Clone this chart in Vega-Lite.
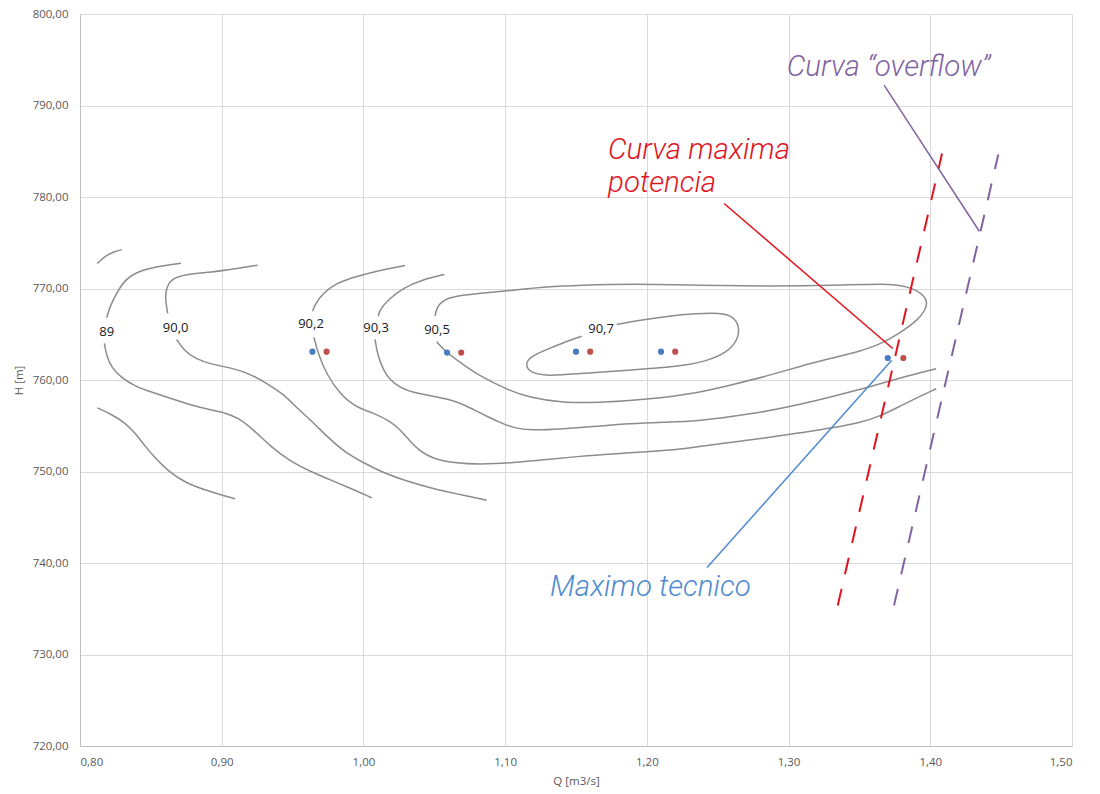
{
 "$schema": "https://vega.github.io/schema/vega-lite/v6.json",
 "width": 992,
 "height": 732,
 "autosize": {"type": "none"},
 "padding": {"left": 80, "top": 14, "right": 28, "bottom": 48},
 "config": {"view": {"stroke": null}, "font": "Open Sans", "background": "white"},
 "datasets": {
  "contours": [
   {"s":"A","i":1,"Q":0.8122,"H":772.73},{"s":"A","i":2,"Q":0.8176,"H":773.53},{"s":"A","i":3,"Q":0.8235,"H":774.01},{"s":"A","i":4,"Q":0.8294,"H":774.23},
   {"s":"89a","i":1,"Q":0.8713,"H":772.77},{"s":"89a","i":2,"Q":0.8553,"H":772.44},{"s":"89a","i":3,"Q":0.8411,"H":771.89},{"s":"89a","i":4,"Q":0.8318,"H":770.98},{"s":"89a","i":5,"Q":0.8259,"H":769.53},{"s":"89a","i":6,"Q":0.8212,"H":768.07},{"s":"89a","i":7,"Q":0.8188,"H":766.80},
   {"s":"89b","i":1,"Q":0.8172,"H":763.99},{"s":"89b","i":2,"Q":0.8188,"H":762.60},{"s":"89b","i":3,"Q":0.8224,"H":761.33},{"s":"89b","i":4,"Q":0.8294,"H":760.24},{"s":"89b","i":5,"Q":0.8388,"H":759.32},{"s":"89b","i":6,"Q":0.8506,"H":758.67},{"s":"89b","i":7,"Q":0.8647,"H":757.94},{"s":"89b","i":8,"Q":0.8788,"H":757.25},{"s":"89b","i":9,"Q":0.8929,"H":756.70},{"s":"89b","i":10,"Q":0.9023,"H":756.42},{"s":"89b","i":11,"Q":0.9117,"H":755.87},{"s":"89b","i":12,"Q":0.9223,"H":754.59},{"s":"89b","i":13,"Q":0.9341,"H":752.77},{"s":"89b","i":14,"Q":0.9482,"H":751.13},{"s":"89b","i":15,"Q":0.9623,"H":750.03},{"s":"89b","i":16,"Q":0.9788,"H":748.94},{"s":"89b","i":17,"Q":0.9929,"H":748.03},{"s":"89b","i":18,"Q":1.0059,"H":747.12},
   {"s":"L","i":1,"Q":0.8122,"H":756.96},{"s":"L","i":2,"Q":0.8224,"H":756.23},{"s":"L","i":3,"Q":0.8318,"H":755.32},{"s":"L","i":4,"Q":0.8388,"H":754.23},{"s":"L","i":5,"Q":0.8459,"H":752.77},{"s":"L","i":6,"Q":0.8529,"H":751.50},{"s":"L","i":7,"Q":0.8623,"H":750.03},{"s":"L","i":8,"Q":0.8741,"H":748.77},{"s":"L","i":9,"Q":0.8905,"H":747.85},{"s":"L","i":10,"Q":0.9094,"H":747.02},
   {"s":"900a","i":1,"Q":0.9254,"H":772.55},{"s":"900a","i":2,"Q":0.9094,"H":772.15},{"s":"900a","i":3,"Q":0.8929,"H":771.78},{"s":"900a","i":4,"Q":0.8741,"H":771.53},{"s":"900a","i":5,"Q":0.8647,"H":771.06},{"s":"900a","i":6,"Q":0.8612,"H":770.25},{"s":"900a","i":7,"Q":0.8600,"H":768.98},{"s":"900a","i":8,"Q":0.8619,"H":767.27},
   {"s":"900b","i":1,"Q":0.8682,"H":764.43},{"s":"900b","i":2,"Q":0.8729,"H":763.33},{"s":"900b","i":3,"Q":0.8812,"H":762.32},{"s":"900b","i":4,"Q":0.8929,"H":761.69},{"s":"900b","i":5,"Q":0.9071,"H":761.33},{"s":"900b","i":6,"Q":0.9212,"H":760.60},{"s":"900b","i":7,"Q":0.9329,"H":759.51},{"s":"900b","i":8,"Q":0.9447,"H":758.30},{"s":"900b","i":9,"Q":0.9505,"H":757.32},{"s":"900b","i":10,"Q":0.9623,"H":755.69},{"s":"900b","i":11,"Q":0.9741,"H":753.86},{"s":"900b","i":12,"Q":0.9858,"H":752.22},{"s":"900b","i":13,"Q":0.9999,"H":750.95},{"s":"900b","i":14,"Q":1.0140,"H":749.86},{"s":"900b","i":15,"Q":1.0305,"H":748.94},{"s":"900b","i":16,"Q":1.0493,"H":748.11},{"s":"900b","i":17,"Q":1.0682,"H":747.49},{"s":"900b","i":18,"Q":1.0870,"H":746.86},
   {"s":"902a","i":1,"Q":1.0293,"H":772.51},{"s":"902a","i":2,"Q":1.0140,"H":772.08},{"s":"902a","i":3,"Q":0.9953,"H":771.34},{"s":"902a","i":4,"Q":0.9811,"H":770.62},{"s":"902a","i":5,"Q":0.9717,"H":769.53},{"s":"902a","i":6,"Q":0.9658,"H":768.25},{"s":"902a","i":7,"Q":0.9642,"H":767.52},
   {"s":"902b","i":1,"Q":0.9651,"H":764.65},{"s":"902b","i":2,"Q":0.9682,"H":762.79},{"s":"902b","i":3,"Q":0.9741,"H":760.60},{"s":"902b","i":4,"Q":0.9835,"H":758.42},{"s":"902b","i":5,"Q":0.9953,"H":756.96},{"s":"902b","i":6,"Q":1.0070,"H":756.42},{"s":"902b","i":7,"Q":1.0188,"H":755.50},{"s":"902b","i":8,"Q":1.0258,"H":754.59},{"s":"902b","i":9,"Q":1.0329,"H":753.31},{"s":"902b","i":10,"Q":1.0399,"H":752.22},{"s":"902b","i":11,"Q":1.0493,"H":751.39},{"s":"902b","i":12,"Q":1.0634,"H":750.95},{"s":"902b","i":13,"Q":1.0823,"H":750.77},{"s":"902b","i":14,"Q":1.1058,"H":750.95},{"s":"902b","i":15,"Q":1.1293,"H":751.31},{"s":"902b","i":16,"Q":1.1528,"H":751.67},{"s":"902b","i":17,"Q":1.1763,"H":751.93},{"s":"902b","i":18,"Q":1.1999,"H":752.15},{"s":"902b","i":19,"Q":1.2234,"H":752.40},{"s":"902b","i":20,"Q":1.2469,"H":752.95},{"s":"902b","i":21,"Q":1.2657,"H":753.31},{"s":"902b","i":22,"Q":1.2846,"H":753.68},{"s":"902b","i":23,"Q":1.3081,"H":754.23},{"s":"902b","i":24,"Q":1.3316,"H":754.77},{"s":"902b","i":25,"Q":1.3504,"H":755.32},{"s":"902b","i":26,"Q":1.3645,"H":756.04},{"s":"902b","i":27,"Q":1.3787,"H":757.14},{"s":"902b","i":28,"Q":1.3928,"H":758.23},{"s":"902b","i":29,"Q":1.4041,"H":759.04},
   {"s":"903a","i":1,"Q":1.0571,"H":771.53},{"s":"903a","i":2,"Q":1.0422,"H":770.98},{"s":"903a","i":3,"Q":1.0281,"H":770.08},{"s":"903a","i":4,"Q":1.0176,"H":768.80},{"s":"903a","i":5,"Q":1.0117,"H":767.71},{"s":"903a","i":6,"Q":1.0105,"H":766.97},
   {"s":"903b","i":1,"Q":1.0082,"H":764.43},{"s":"903b","i":2,"Q":1.0098,"H":762.79},{"s":"903b","i":3,"Q":1.0152,"H":760.60},{"s":"903b","i":4,"Q":1.0235,"H":759.32},{"s":"903b","i":5,"Q":1.0352,"H":758.60},{"s":"903b","i":6,"Q":1.0493,"H":758.23},{"s":"903b","i":7,"Q":1.0611,"H":757.87},{"s":"903b","i":8,"Q":1.0705,"H":757.32},{"s":"903b","i":9,"Q":1.0799,"H":756.59},{"s":"903b","i":10,"Q":1.0893,"H":755.87},{"s":"903b","i":11,"Q":1.0964,"H":755.36},{"s":"903b","i":12,"Q":1.1058,"H":754.77},{"s":"903b","i":13,"Q":1.1176,"H":754.48},{"s":"903b","i":14,"Q":1.1411,"H":754.67},{"s":"903b","i":15,"Q":1.1646,"H":754.95},{"s":"903b","i":16,"Q":1.1881,"H":755.25},{"s":"903b","i":17,"Q":1.2116,"H":755.39},{"s":"903b","i":18,"Q":1.2361,"H":755.52},{"s":"903b","i":19,"Q":1.2610,"H":756.04},{"s":"903b","i":20,"Q":1.2846,"H":756.59},{"s":"903b","i":21,"Q":1.3081,"H":757.32},{"s":"903b","i":22,"Q":1.3316,"H":758.23},{"s":"903b","i":23,"Q":1.3552,"H":759.15},{"s":"903b","i":24,"Q":1.3787,"H":760.24},{"s":"903b","i":25,"Q":1.4041,"H":761.22},
   {"s":"905","i":1,"Q":1.0517,"H":764.17},{"s":"905","i":2,"Q":1.0588,"H":762.97},{"s":"905","i":3,"Q":1.0705,"H":761.69},{"s":"905","i":4,"Q":1.0823,"H":760.42},{"s":"905","i":5,"Q":1.1011,"H":758.96},{"s":"905","i":6,"Q":1.1176,"H":758.05},{"s":"905","i":7,"Q":1.1411,"H":757.51},{"s":"905","i":8,"Q":1.1646,"H":757.51},{"s":"905","i":9,"Q":1.1999,"H":757.87},{"s":"905","i":10,"Q":1.2361,"H":758.58},{"s":"905","i":11,"Q":1.2610,"H":759.51},{"s":"905","i":12,"Q":1.2846,"H":760.42},{"s":"905","i":13,"Q":1.3081,"H":761.51},{"s":"905","i":14,"Q":1.3316,"H":762.43},{"s":"905","i":15,"Q":1.3504,"H":763.15},{"s":"905","i":16,"Q":1.3645,"H":763.88},{"s":"905","i":17,"Q":1.3787,"H":765.16},{"s":"905","i":18,"Q":1.3904,"H":766.43},{"s":"905","i":19,"Q":1.3970,"H":767.71},{"s":"905","i":20,"Q":1.3979,"H":768.62},{"s":"905","i":21,"Q":1.3940,"H":769.53},{"s":"905","i":22,"Q":1.3834,"H":770.25},{"s":"905","i":23,"Q":1.3693,"H":770.55},{"s":"905","i":24,"Q":1.3316,"H":770.33},{"s":"905","i":25,"Q":1.2846,"H":770.25},{"s":"905","i":26,"Q":1.2375,"H":770.36},{"s":"905","i":27,"Q":1.1881,"H":770.51},{"s":"905","i":28,"Q":1.1528,"H":770.36},{"s":"905","i":29,"Q":1.1293,"H":770.19},{"s":"905","i":30,"Q":1.1058,"H":769.82},{"s":"905","i":31,"Q":1.0823,"H":769.46},{"s":"905","i":32,"Q":1.0634,"H":769.16},{"s":"905","i":33,"Q":1.0553,"H":768.62},{"s":"905","i":34,"Q":1.0517,"H":767.89},{"s":"905","i":35,"Q":1.0505,"H":766.97},
   {"s":"907","i":1,"Q":1.1787,"H":766.07},{"s":"907","i":2,"Q":1.1952,"H":766.54},{"s":"907","i":3,"Q":1.2140,"H":766.97},{"s":"907","i":4,"Q":1.2352,"H":767.27},{"s":"907","i":5,"Q":1.2516,"H":767.35},{"s":"907","i":6,"Q":1.2610,"H":766.97},{"s":"907","i":7,"Q":1.2653,"H":765.88},{"s":"907","i":8,"Q":1.2645,"H":764.43},{"s":"907","i":9,"Q":1.2564,"H":762.97},{"s":"907","i":10,"Q":1.2423,"H":762.06},{"s":"907","i":11,"Q":1.2234,"H":761.51},{"s":"907","i":12,"Q":1.1999,"H":761.22},{"s":"907","i":13,"Q":1.1763,"H":760.96},{"s":"907","i":14,"Q":1.1528,"H":760.71},{"s":"907","i":15,"Q":1.1293,"H":760.42},{"s":"907","i":16,"Q":1.1176,"H":760.79},{"s":"907","i":17,"Q":1.1140,"H":761.69},{"s":"907","i":18,"Q":1.1176,"H":762.54},{"s":"907","i":19,"Q":1.1293,"H":763.33},{"s":"907","i":20,"Q":1.1411,"H":764.07},{"s":"907","i":21,"Q":1.1540,"H":764.79}
  ],
  "dashed": [
   {"serie":"potencia","i":1,"Q":1.3347,"H":735.36},{"serie":"potencia","i":2,"Q":1.4083,"H":784.75},
   {"serie":"overflow","i":1,"Q":1.3744,"H":735.36},{"serie":"overflow","i":2,"Q":1.4480,"H":784.65}
  ],
  "leaders": [
   {"serie":"overflow","i":1,"Q":1.3674,"H":792.22},{"serie":"overflow","i":2,"Q":1.4346,"H":776.26},
   {"serie":"potencia","i":1,"Q":1.2545,"H":779.29},{"serie":"potencia","i":2,"Q":1.3735,"H":763.44},
   {"serie":"tecnico","i":1,"Q":1.2425,"H":739.51},{"serie":"tecnico","i":2,"Q":1.3728,"H":762.17}
  ],
  "points": [
   {"serie":"tecnico","Q":0.964,"H":763.1},{"serie":"tecnico","Q":1.059,"H":763.0},{"serie":"tecnico","Q":1.150,"H":763.1},{"serie":"tecnico","Q":1.210,"H":763.1},{"serie":"tecnico","Q":1.370,"H":762.4},
   {"serie":"potencia","Q":0.974,"H":763.1},{"serie":"potencia","Q":1.069,"H":763.0},{"serie":"potencia","Q":1.160,"H":763.1},{"serie":"potencia","Q":1.220,"H":763.1},{"serie":"potencia","Q":1.381,"H":762.4}
  ],
  "labels": [
   {"t":"89","Q":0.8188,"H":765.27},{"t":"90,0","Q":0.8675,"H":765.66},{"t":"90,2","Q":0.9630,"H":766.07},{"t":"90,3","Q":1.0089,"H":765.65},{"t":"90,5","Q":1.0519,"H":765.41},{"t":"90,7","Q":1.1677,"H":765.55}
  ],
  "notes": [
   {"serie":"overflow","t":"Curva “overflow”","Q":1.2987,"H":793.17},
   {"serie":"potencia","t":"Curva maxima","Q":1.1726,"H":784.10},
   {"serie":"potencia","t":"potencia","Q":1.1726,"H":780.60},
   {"serie":"tecnico","t":"Maximo tecnico","Q":1.1317,"H":736.34}
  ]
 },
 "encoding": {
  "x": {"field": "Q", "type": "quantitative",
   "scale": {"domain": [0.8, 1.5], "nice": false, "zero": false},
   "axis": {"values": [0.8, 0.9, 1.0, 1.1, 1.2, 1.3, 1.4, 1.5], "labelExpr": "replace(format(datum.value, '.2f'), '.', ',')",
    "title": "Q [m3/s]", "grid": true, "gridColor": "#d9d9d9", "gridWidth": 1, "domainColor": "#bfbfbf", "ticks": false,
    "labelPadding": 10, "labelFontSize": 11.5, "labelColor": "#595959", "labelFont": "Open Sans",
    "titleFontSize": 11.5, "titleColor": "#595959", "titleFontWeight": "normal", "titleFont": "Open Sans", "titlePadding": 8}},
  "y": {"field": "H", "type": "quantitative",
   "scale": {"domain": [720, 800], "nice": false, "zero": false},
   "axis": {"values": [720, 730, 740, 750, 760, 770, 780, 790, 800], "labelExpr": "replace(format(datum.value, '.2f'), '.', ',')",
    "title": "H [m]", "grid": true, "gridColor": "#d9d9d9", "gridWidth": 1, "domainColor": "#bfbfbf", "ticks": false,
    "labelPadding": 12, "labelFontSize": 11.5, "labelColor": "#595959", "labelFont": "Open Sans",
    "titleFontSize": 11.5, "titleColor": "#595959", "titleFontWeight": "normal", "titleFont": "Open Sans", "titlePadding": 8}}
 },
 "layer": [
  {"data": {"name": "contours"},
   "mark": {"type": "line", "color": "#8c8c8c", "strokeWidth": 1.5, "interpolate": "basis"},
   "encoding": {"detail": {"field": "s", "type": "nominal"}, "order": {"field": "i", "type": "quantitative"}}},
  {"data": {"name": "dashed"},
   "mark": {"type": "line", "strokeWidth": 2, "strokeDash": [17, 15]},
   "encoding": {"color": {"field": "serie", "type": "nominal", "scale": {"domain": ["overflow", "potencia", "tecnico"], "range": ["#8064a2", "#e0141e", "#4f8ad0"]}, "legend": null},
    "order": {"field": "i", "type": "quantitative"}}},
  {"data": {"name": "leaders"},
   "mark": {"type": "line", "strokeWidth": 1.5},
   "encoding": {"color": {"field": "serie", "type": "nominal", "legend": null},
    "detail": {"field": "serie", "type": "nominal"},
    "order": {"field": "i", "type": "quantitative"}}},
  {"data": {"name": "points"},
   "mark": {"type": "point", "filled": true, "size": 38, "opacity": 1},
   "encoding": {"fill": {"field": "serie", "type": "nominal", "scale": {"domain": ["tecnico", "potencia"], "range": ["#4a7cc0", "#c0504d"]}, "legend": null}}},
  {"data": {"name": "labels"},
   "mark": {"type": "text", "font": "Open Sans", "fontSize": 13, "color": "#1a1a1a", "align": "center", "baseline": "middle"},
   "encoding": {"text": {"field": "t"}}},
  {"data": {"name": "notes"},
   "mark": {"type": "text", "font": "Roboto", "fontWeight": 300, "fontSize": 29.5, "fontStyle": "italic", "align": "left", "baseline": "alphabetic"},
   "encoding": {"text": {"field": "t"}, "color": {"field": "serie", "type": "nominal", "legend": null}}}
 ]
}
